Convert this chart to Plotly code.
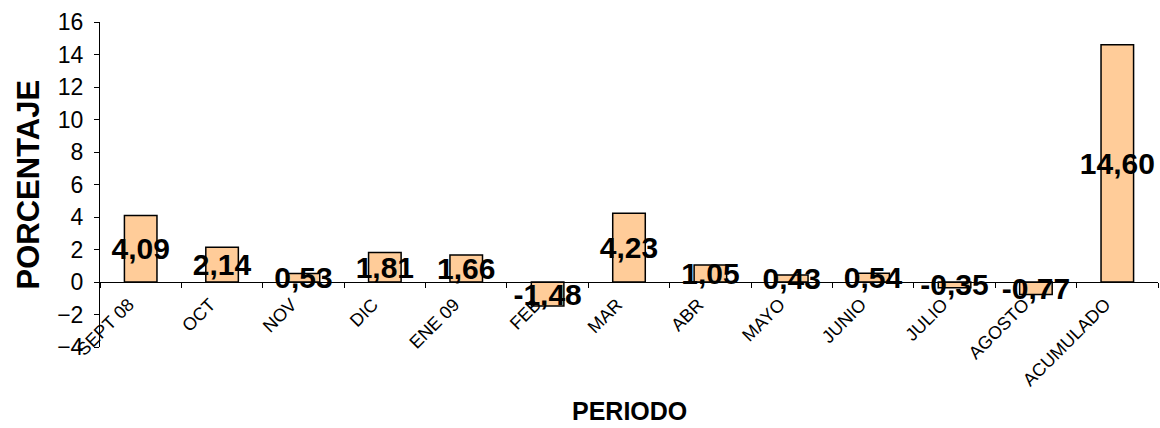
import plotly.graph_objects as go

categories = ["SEPT 08", "OCT", "NOV", "DIC", "ENE 09", "FEB", "MAR", "ABR",
              "MAYO", "JUNIO", "JULIO", "AGOSTO", "ACUMULADO"]
values = [4.09, 2.14, 0.53, 1.81, 1.66, -1.48, 4.23, 1.05, 0.43, 0.54, -0.35, -0.77, 14.60]
y_range = [-4, 16]
y_ticks = list(range(-4, 17, 2))

zero_pos = (0 - y_range[0]) / (y_range[1] - y_range[0])

fig = go.Figure(go.Bar(
    x=categories, y=values,
    marker=dict(color="#FFCC99", line=dict(color="#000000", width=1.5)),
    texttemplate="%{y:.2f}",
    textposition="inside",
    insidetextanchor="middle",
    textangle=0,
    constraintext="none",
    insidetextfont=dict(family="Arial, Liberation Sans", size=30, color="black", weight="bold"),
    cliponaxis=False,
))

fig.update_layout(
    width=1160, height=428,
    margin=dict(l=100, r=2, t=22, b=81),
    paper_bgcolor="white", plot_bgcolor="white",
    separators=",.",
    bargap=0.6,
    showlegend=False,
    font=dict(family="Arial, Liberation Sans", color="black"),
    xaxis=dict(
        anchor="free", position=zero_pos,
        showline=True, linecolor="black", linewidth=1,
        ticks="outside", ticklen=5, tickcolor="black", tickson="boundaries",
        tickangle=-45, tickfont=dict(size=18, color="black"),
        ticklabelshift=-12, ticklabelstandoff=4,
        showgrid=False, zeroline=False,
    ),
    yaxis=dict(
        range=y_range, tickvals=y_ticks,
        showline=True, linecolor="black", linewidth=1,
        ticks="outside", ticklen=5, tickcolor="black",
        tickfont=dict(size=23, color="black"), ticklabelstandoff=6,
        showgrid=False, zeroline=False,
    ),
    annotations=[
        dict(text="PERIODO", xref="paper", yref="paper", x=0.5, y=0, yshift=-64,
             yanchor="middle", showarrow=False,
             font=dict(size=25, color="black", weight="bold")),
        dict(text="PORCENTAJE", xref="paper", yref="paper", x=0, y=0.5, xshift=-72,
             xanchor="center", yanchor="middle", textangle=-90, showarrow=False,
             font=dict(size=31, color="black", weight="bold")),
    ],
)

fig.write_html("out.html", config={"displayModeBar": False},
               post_script="document.body.style.margin='0';")
